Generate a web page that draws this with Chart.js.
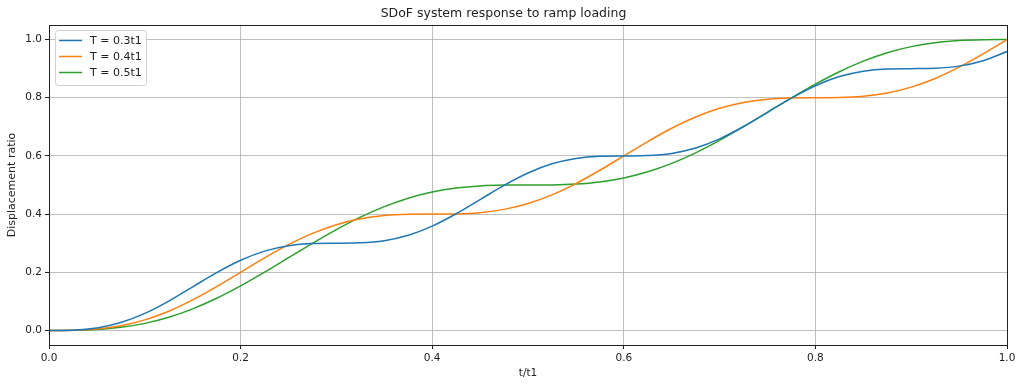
<!DOCTYPE html>
<html>
<head>
<meta charset="utf-8">
<script src="https://cdn.jsdelivr.net/npm/chart.js@4.4.1/dist/chart.umd.min.js"></script>
<style>
    html, body { margin: 0; padding: 0; background: #fff; }
    #wrap { width: 1024px; height: 387px; position: relative; }
</style>
</head>
<body>
<div id="wrap"><canvas id="chart"></canvas></div>
<script>
// Time axis (t/t1)
const tRatio = [
    0, 0.025, 0.05, 0.075, 0.1, 0.125, 0.15, 0.175, 0.2, 0.225,
    0.25, 0.275, 0.3, 0.325, 0.35, 0.375, 0.4, 0.425, 0.45, 0.475,
    0.5, 0.525, 0.55, 0.575, 0.6, 0.625, 0.65, 0.675, 0.7, 0.725,
    0.75, 0.775, 0.8, 0.825, 0.85, 0.875, 0.9, 0.925, 0.95, 0.975, 1.0
];

// Displacement ratio for each period
const dispT03 = [
    0, 0.00113, 0.00865, 0.02725, 0.05865, 0.10113, 0.15, 0.19887, 0.24135, 0.27275,
    0.29135, 0.29887, 0.3, 0.30113, 0.30865, 0.32725, 0.35865, 0.40113, 0.45, 0.49887,
    0.54135, 0.57275, 0.59135, 0.59887, 0.6, 0.60113, 0.60865, 0.62725, 0.65865, 0.70113,
    0.75, 0.79887, 0.84135, 0.87275, 0.89135, 0.89887, 0.9, 0.90113, 0.90865, 0.92725, 0.95865
];
const dispT04 = [
    0, 0.00064, 0.00498, 0.01618, 0.03634, 0.06618, 0.10498, 0.15064, 0.2, 0.24936,
    0.29502, 0.33382, 0.36366, 0.38382, 0.39502, 0.39936, 0.4, 0.40064, 0.40498, 0.41618,
    0.43634, 0.46618, 0.50498, 0.55064, 0.6, 0.64936, 0.69502, 0.73382, 0.76366, 0.78382,
    0.79502, 0.79936, 0.8, 0.80064, 0.80498, 0.81618, 0.83634, 0.86618, 0.90498, 0.95064, 1.0
];
const dispT05 = [
    0, 0.00041, 0.00323, 0.01062, 0.02432, 0.04542, 0.07432, 0.11062, 0.15323, 0.20041,
    0.25, 0.29959, 0.34678, 0.38938, 0.42568, 0.45458, 0.47568, 0.48938, 0.49678, 0.49959,
    0.5, 0.50041, 0.50323, 0.51062, 0.52432, 0.54542, 0.57432, 0.61062, 0.65323, 0.70041,
    0.75, 0.79959, 0.84678, 0.88938, 0.92568, 0.95458, 0.97568, 0.98938, 0.99678, 0.99959, 1.0
];

const seriesLabels = ['T = 0.3t1', 'T = 0.4t1', 'T = 0.5t1'];
const xTicks = [0, 0.2, 0.4, 0.6, 0.8, 1.0];
const yTicks = [0, 0.2, 0.4, 0.6, 0.8, 1.0];

const COLORS = ['#1f77b4', '#ff7f0e', '#2ca02c'];
const FONT = 'DejaVu Sans';

function toPoints(ys) {
    return tRatio.map((t, i) => ({ x: t, y: ys[i] }));
}

// Black box around the plot area, like matplotlib spines
const framePlugin = {
    id: 'frame',
    afterDatasetsDraw(chart) {
        const { ctx, chartArea: a } = chart;
        ctx.save();
        ctx.strokeStyle = '#222';
        ctx.lineWidth = 1;
        ctx.strokeRect(a.left + 0.5, a.top + 0.5, a.right - a.left, a.bottom - a.top);
        ctx.restore();
    }
};

// Legend drawn inside the plot area (upper left)
const innerLegend = {
    id: 'innerLegend',
    afterDraw(chart) {
        const { ctx, chartArea: a } = chart;
        const x0 = a.left + 6, y0 = a.top + 5;
        const w = 91, h = 55, r = 3;
        ctx.save();
        ctx.fillStyle = 'rgba(255,255,255,0.8)';
        ctx.strokeStyle = '#d0d0d0';
        ctx.lineWidth = 1;
        ctx.beginPath();
        ctx.roundRect(x0 + 0.5, y0 + 0.5, w, h, r);
        ctx.fill();
        ctx.stroke();
        ctx.font = '11px ' + FONT;
        ctx.textBaseline = 'middle';
        chart.data.datasets.forEach((ds, i) => {
            const y = y0 + 10.5 + i * 16;
            ctx.strokeStyle = ds.borderColor;
            ctx.lineWidth = 1.5;
            ctx.beginPath();
            ctx.moveTo(x0 + 4, y);
            ctx.lineTo(x0 + 27, y);
            ctx.stroke();
            ctx.fillStyle = '#222';
            ctx.fillText(ds.label, x0 + 35, y + 0.5);
        });
        ctx.restore();
    }
};

const ctx = document.getElementById('chart').getContext('2d');
new Chart(ctx, {
    type: 'line',
    data: {
        datasets: [dispT03, dispT04, dispT05].map((ys, i) => ({
            label: seriesLabels[i],
            data: toPoints(ys),
            borderColor: COLORS[i],
            backgroundColor: COLORS[i],
            borderWidth: 1.5,
            pointRadius: 0,
            cubicInterpolationMode: 'monotone',
            fill: false
        }))
    },
    options: {
        responsive: true,
        maintainAspectRatio: false,
        animation: false,
        layout: { padding: { left: 0, right: 17, top: 0, bottom: 0 } },
        plugins: {
            legend: { display: false },
            tooltip: { enabled: false },
            title: {
                display: true,
                text: 'SDoF system response to ramp loading',
                color: '#222',
                font: { family: FONT, size: 12.5, weight: 'normal' },
                padding: { top: 6.5, bottom: 3.5 }
            }
        },
        scales: {
            x: {
                type: 'linear',
                min: 0,
                max: 1,
                afterBuildTicks(scale) { scale.ticks = xTicks.map(v => ({ value: v })); },
                afterFit(scale) { scale.height = 42; },
                grid: { color: '#b0b0b0', lineWidth: 0.8, tickLength: 4, tickColor: '#222', tickWidth: 1 },
                border: { display: false },
                ticks: {
                    color: '#222',
                    padding: 3,
                    maxRotation: 0,
                    font: { family: FONT, size: 10.5 },
                    callback: v => v.toFixed(1)
                },
                title: {
                    display: true,
                    text: 't/t1',
                    color: '#222',
                    font: { family: FONT, size: 10.5 },
                    padding: { top: 0, bottom: 7 }
                }
            },
            y: {
                type: 'linear',
                min: -0.05,
                max: 1.05,
                afterBuildTicks(scale) { scale.ticks = yTicks.map(v => ({ value: v })); },
                afterFit(scale) { scale.width = 49; },
                grid: { color: '#b0b0b0', lineWidth: 0.8, tickLength: 4, tickColor: '#222', tickWidth: 1 },
                border: { display: false },
                ticks: {
                    color: '#222',
                    padding: 3,
                    font: { family: FONT, size: 10.5 },
                    callback: v => v.toFixed(1)
                },
                title: {
                    display: true,
                    text: 'Displacement ratio',
                    color: '#222',
                    font: { family: FONT, size: 11 },
                    padding: { top: 6, bottom: 0 }
                }
            }
        }
    },
    plugins: [framePlugin, innerLegend]
});
</script>
</body>
</html>
